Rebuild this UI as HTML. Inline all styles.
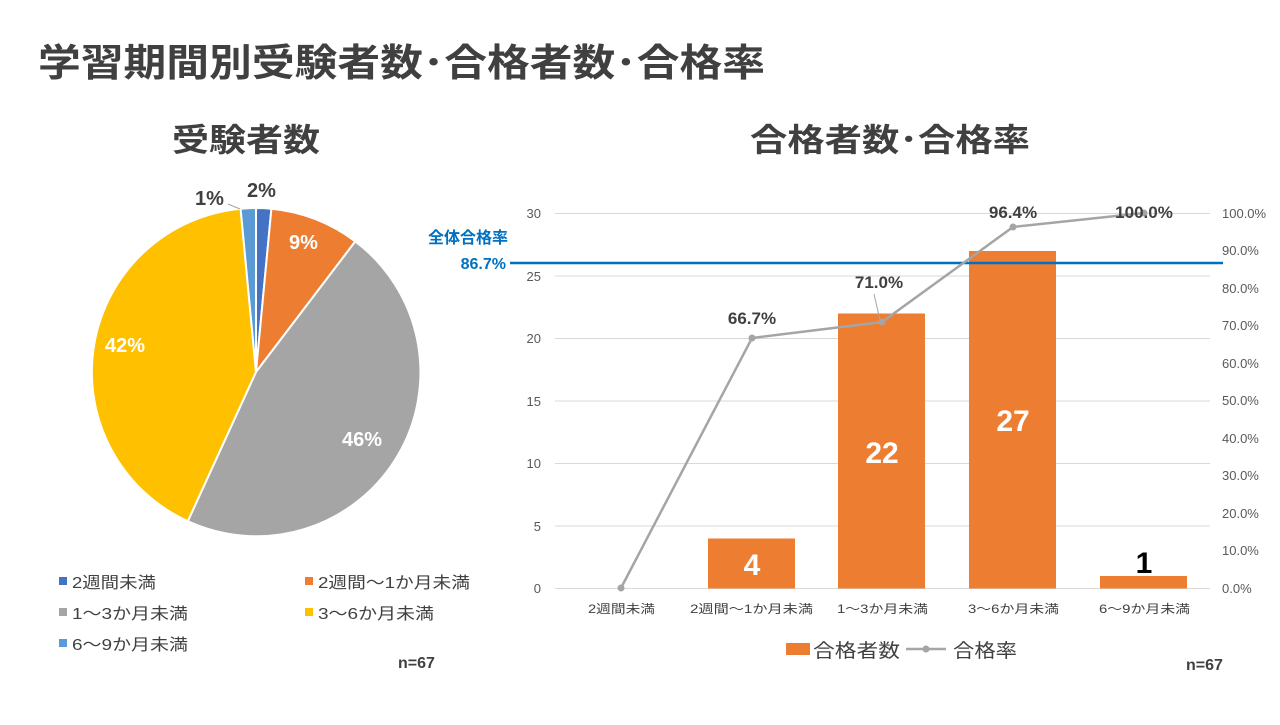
<!DOCTYPE html>
<html><head><meta charset="utf-8"><style>
body{margin:0;width:1280px;height:720px;background:#fff;overflow:hidden;font-family:"Liberation Sans","Noto Sans CJK JP",sans-serif;}
svg text{font-family:"Liberation Sans","Noto Sans CJK JP",sans-serif;}
</style></head><body>
<svg width="1280" height="720" xmlns="http://www.w3.org/2000/svg">
<text x="38" y="76" font-size="38" font-weight="bold" fill="#404040" textLength="727" lengthAdjust="spacingAndGlyphs">学習期間別受験者数･合格者数･合格率</text>
<text x="172" y="151" font-size="32" font-weight="bold" fill="#404040" textLength="148" lengthAdjust="spacingAndGlyphs">受験者数</text>
<text x="750" y="151" font-size="32" font-weight="bold" fill="#404040" textLength="280" lengthAdjust="spacingAndGlyphs">合格者数･合格率</text>
<g stroke="#fff" stroke-width="2">
<path d="M256,372 L256,208 A164,164 0 0 1 271.4,208.7 Z" fill="#4472C4"/>
<path d="M256,372 L271.4,208.7 A164,164 0 0 1 355.3,241.4 Z" fill="#ED7D31"/>
<path d="M256,372 L355.3,241.4 A164,164 0 0 1 187.8,521.2 Z" fill="#A5A5A5"/>
<path d="M256,372 L187.8,521.2 A164,164 0 0 1 240.6,208.7 Z" fill="#FFC000"/>
<path d="M256,372 L240.6,208.7 A164,164 0 0 1 256,208 Z" fill="#5B9BD5"/>
</g>
<g font-size="20" font-weight="bold">
<text x="247" y="197" fill="#404040">2%</text>
<text x="195" y="205" fill="#404040">1%</text>
<text x="289" y="249" fill="#fff">9%</text>
<text x="342" y="446" fill="#fff">46%</text>
<text x="105" y="352" fill="#fff">42%</text>
</g>
<path d="M228,204 L240,209" stroke="#A5A5A5" fill="none"/>
<g font-size="16" fill="#404040">
<rect x="59" y="577" width="8" height="8" fill="#4472C4"/><text x="72" y="588" textLength="84" lengthAdjust="spacingAndGlyphs">2週間未満</text>
<rect x="305" y="577" width="8" height="8" fill="#ED7D31"/><text x="318" y="588" textLength="152" lengthAdjust="spacingAndGlyphs">2週間～1か月未満</text>
<rect x="59" y="608" width="8" height="8" fill="#A5A5A5"/><text x="72" y="619" textLength="116" lengthAdjust="spacingAndGlyphs">1～3か月未満</text>
<rect x="305" y="608" width="8" height="8" fill="#FFC000"/><text x="318" y="619" textLength="116" lengthAdjust="spacingAndGlyphs">3～6か月未満</text>
<rect x="59" y="639" width="8" height="8" fill="#5B9BD5"/><text x="72" y="650" textLength="116" lengthAdjust="spacingAndGlyphs">6～9か月未満</text>
<text x="398" y="668" font-weight="bold">n=67</text>
<text x="1186" y="670" font-weight="bold">n=67</text>
</g>
<g stroke="#D9D9D9" stroke-width="1">
<line x1="555" x2="1210" y1="213.5" y2="213.5"/><line x1="555" x2="1210" y1="276" y2="276"/>
<line x1="555" x2="1210" y1="338.5" y2="338.5"/><line x1="555" x2="1210" y1="401" y2="401"/>
<line x1="555" x2="1210" y1="463.5" y2="463.5"/><line x1="555" x2="1210" y1="526" y2="526"/>
<line x1="555" x2="1210" y1="588.5" y2="588.5"/>
</g>
<g font-size="13" fill="#595959" text-anchor="end">
<text x="541" y="218">30</text><text x="541" y="281">25</text><text x="541" y="343">20</text>
<text x="541" y="406">15</text><text x="541" y="468">10</text><text x="541" y="531">5</text><text x="541" y="593">0</text>
</g>
<g font-size="13" fill="#595959">
<text x="1222" y="218">100.0%</text><text x="1222" y="255">90.0%</text><text x="1222" y="293">80.0%</text>
<text x="1222" y="330">70.0%</text><text x="1222" y="368">60.0%</text><text x="1222" y="405">50.0%</text>
<text x="1222" y="443">40.0%</text><text x="1222" y="480">30.0%</text><text x="1222" y="518">20.0%</text>
<text x="1222" y="555">10.0%</text><text x="1222" y="593">0.0%</text>
</g>
<g fill="#ED7D31">
<rect x="708" y="538.5" width="87" height="50"/>
<rect x="838" y="313.5" width="87" height="275"/>
<rect x="969" y="251" width="87" height="337.5"/>
<rect x="1100" y="576" width="87" height="12.5"/>
</g>
<g font-size="30" font-weight="bold" text-anchor="middle">
<text x="752" y="575" fill="#fff">4</text>
<text x="882" y="463" fill="#fff">22</text>
<text x="1013" y="431" fill="#fff">27</text>
<text x="1144" y="573" fill="#000">1</text>
</g>
<line x1="510" x2="1223" y1="263" y2="263" stroke="#0070C0" stroke-width="2.5"/>
<text x="508" y="243" font-size="16" font-weight="bold" fill="#0070C0" text-anchor="end">全体合格率</text>
<text x="506" y="269" font-size="16" font-weight="bold" fill="#0070C0" text-anchor="end">86.7%</text>
<polyline points="621,588 752,338 882,322 1013,227 1144,213" fill="none" stroke="#A5A5A5" stroke-width="2.5"/>
<g fill="#A5A5A5"><circle cx="621" cy="588" r="3.5"/><circle cx="752" cy="338" r="3.5"/><circle cx="882" cy="322" r="3.5"/><circle cx="1013" cy="227" r="3.5"/><circle cx="1144" cy="213" r="3.5"/></g>
<path d="M874,294 L880,320" stroke="#A5A5A5" fill="none"/>
<g font-size="17" font-weight="bold" fill="#404040" text-anchor="middle">
<text x="752" y="324">66.7%</text><text x="879" y="288">71.0%</text>
<text x="1013" y="218">96.4%</text><text x="1144" y="218">100.0%</text>
</g>
<g font-size="12" fill="#404040">
<text x="588" y="613" textLength="67" lengthAdjust="spacingAndGlyphs">2週間未満</text>
<text x="690" y="613" textLength="123" lengthAdjust="spacingAndGlyphs">2週間～1か月未満</text>
<text x="837" y="613" textLength="91" lengthAdjust="spacingAndGlyphs">1～3か月未満</text>
<text x="968" y="613" textLength="91" lengthAdjust="spacingAndGlyphs">3～6か月未満</text>
<text x="1099" y="613" textLength="91" lengthAdjust="spacingAndGlyphs">6～9か月未満</text>
</g>
<rect x="786" y="643" width="24" height="12" fill="#ED7D31"/>
<text x="813" y="657" font-size="19" fill="#404040" textLength="87" lengthAdjust="spacingAndGlyphs">合格者数</text>
<line x1="906" x2="946" y1="649" y2="649" stroke="#A5A5A5" stroke-width="2.5"/><circle cx="926" cy="649" r="3.5" fill="#A5A5A5"/>
<text x="953" y="657" font-size="19" fill="#404040" textLength="64" lengthAdjust="spacingAndGlyphs">合格率</text>
</svg>
</body></html>
